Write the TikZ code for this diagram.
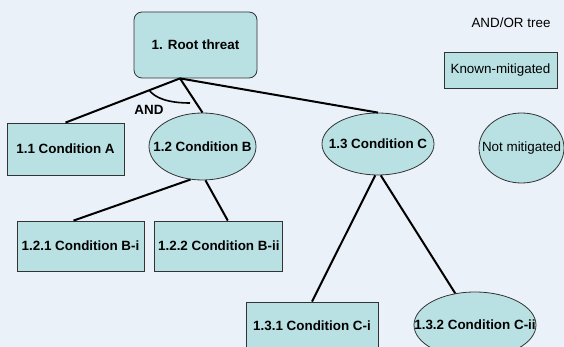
\documentclass[tikz,border=0pt]{standalone}
\usepackage{fontspec}
\setmainfont{Liberation Sans}
\usetikzlibrary{positioning,shapes.geometric}

\definecolor{cellfill}{HTML}{B9E1E3}
\definecolor{slidebg}{HTML}{EBF1F9}
\newcommand{\diagfont}{\fontsize{13.4}{16}\selectfont}
% keep the text from widening the ellipse
\newcommand{\ovl}[1]{\makebox[0pt]{#1}}

\begin{document}
\begin{tikzpicture}[x=1pt, y=-1pt,
	main/.style={rectangle, draw=black!80, fill=cellfill, line width=0.8pt, inner sep=0pt, font=\diagfont\bfseries},
	oval/.style={main, ellipse},
	plain/.style={font=\diagfont},
	link/.style={line width=2pt}
	]

	\fill[slidebg] (0,0) rectangle (564,347);
	\useasboundingbox (0,0) rectangle (564,347);

	\node (root) [main, rounded corners=8pt, minimum width=123pt, minimum height=66pt] at (195.5,45) {1. Root threat};
		\coordinate (fork) at ([xshift=-15.5pt]root.south);
		\node (c11) [main, minimum width=117pt, minimum height=52pt] at (65.5,149) {1.1 Condition A};
		\node (c12) [oval, minimum width=107pt, minimum height=67pt] at (202.5,146.5) {\ovl{1.2 Condition B}};
			\node (c121) [main, minimum width=127pt, minimum height=50pt] at (80.5,246) {1.2.1 Condition B-i};
			\node (c122) [main, minimum width=128pt, minimum height=50pt, right=10pt of c121] {1.2.2 Condition B-ii};
		\node (c13) [oval, minimum width=112pt, minimum height=62pt] at (378,144) {\ovl{1.3 Condition C}};
			\node (c131) [main, minimum width=132pt, minimum height=48pt] at (312,326) {1.3.1 Condition C-i};
			\node (c132) [oval, minimum width=122pt, minimum height=66pt] at (475,325) {\ovl{1.3.2 Condition C-ii}};

	% legend
	\node (title) [plain] at (511,23) {AND/OR tree};
	\node (known) [main, font=\diagfont, minimum width=113pt, minimum height=36pt] at (500.5,70) {Known-mitigated};
	\node (notmit) [oval, font=\diagfont, minimum width=85pt, minimum height=70pt] at (521.5,148) {\ovl{Not mitigated}};

	\draw [link] (fork)--(c11.north);
	\draw [link] (fork)--(c12.north);
	\draw [link] (fork)--(c13.north);

	\draw [link] (c12.250)--([xshift=-7pt]c121.north);
	\draw [link] (c12.275)--([xshift=9pt]c122.north);
	\draw [link] (c13.265)--(c131.north);
	\draw [link] (c13.275)--(c132.122);

	% AND bow between the first two branches
	\coordinate (andfrom) at (149,90);
	\coordinate (andto) at (190,103);
	\draw [line width=1.6pt] (andfrom) .. controls (155,98) and (168,103) .. (andto);
	\node (andlbl) [font=\diagfont\bfseries] at (149,110) {AND};

\end{tikzpicture}
\end{document}
